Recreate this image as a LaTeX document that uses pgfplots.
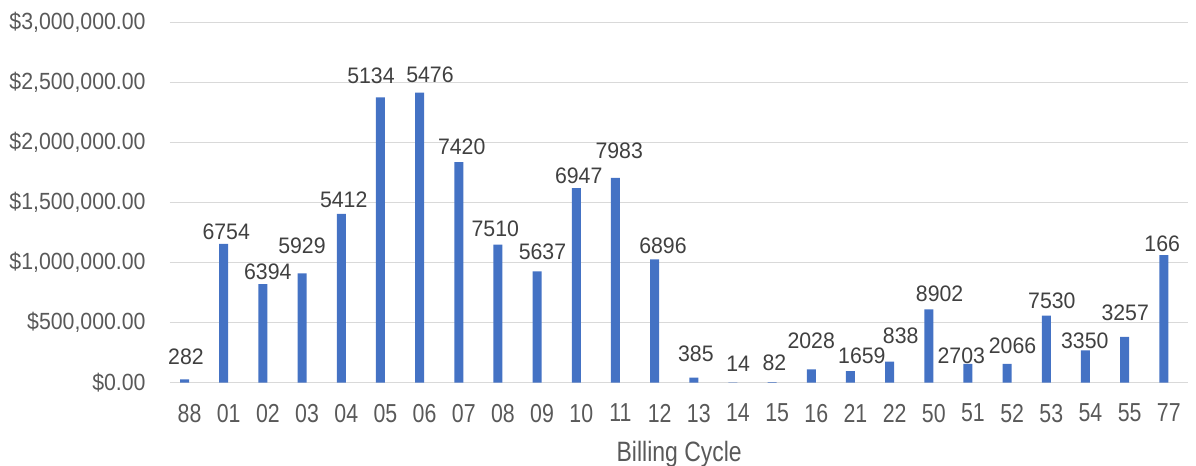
\documentclass[border=0pt]{standalone}
\usepackage{fontspec}
\setmainfont[FakeStretch=0.82]{Liberation Sans}
\newfontfamily\labelfont[FakeStretch=0.95]{Liberation Sans}
\newfontfamily\yfont[FakeStretch=0.91]{Liberation Sans}
\usepackage{pgfplots}
\pgfplotsset{compat=1.18}
\usepackage{pgfplotstable}
\definecolor{barblue}{HTML}{4472C4}
\definecolor{gridgray}{HTML}{D9D9D9}
\definecolor{tickgray}{HTML}{595959}
\definecolor{labelgray}{HTML}{404040}

\pgfplotstableread{
x y
0 28000
1 1156000
2 822000
3 911000
4 1406000
5 2378000
6 2417000
7 1839000
8 1150000
9 928000
10 1622000
11 1706000
12 1028000
13 42000
14 3000
15 5000
16 112000
17 97000
18 175000
19 612000
20 156000
21 156000
22 558000
23 270000
24 381000
25 1064000
}\bars

\pgfplotstableread{
x y label
-0.092 147500 282
0.935 1195000 6754
1.997 861700 6394
2.870 1072500 5929
3.935 1458300 5412
4.631 2495000 5134
6.138 2500000 5476
6.947 1905800 7420
7.805 1216700 7510
9.010 1022500 5637
9.934 1661700 6947
10.968 1864200 7983
12.086 1078300 6896
12.926 175000 385
14.004 91700 14
14.933 105800 82
15.870 286700 2028
17.164 161700 1659
18.155 328300 838
19.148 675000 8902
19.702 161700 2703
21.011 239200 2066
22.015 620000 7530
22.855 286700 3350
23.886 516700 3257
24.831 1091700 166
}\labels

\begin{document}
\begin{tikzpicture}
\begin{axis}[
  scale only axis,
  width=509.2pt, height=180pt,
  xmin=-0.5, xmax=25.5, ymin=0, ymax=3000000,
  scaled y ticks=false,
  clip=false,
  axis line style={draw=none},
  tick style={draw=none},
  major tick length=0pt,
  ymajorgrids,
  grid style={gridgray, line width=0.75pt},
  xtick={0,...,25},
  xticklabels={88,01,02,03,04,05,06,07,08,09,10,11,12,13,14,15,16,21,22,50,51,52,53,54,55,77},
  ytick={0,500000,1000000,1500000,2000000,2500000,3000000},
  yticklabels={{\$0.00},{\$500,000.00},{\$1,000,000.00},{\$1,500,000.00},{\$2,000,000.00},{\$2,500,000.00},{\$3,000,000.00}},
  xticklabel style={font=\fontsize{13}{13}\selectfont, text=tickgray, inner sep=0pt, anchor=north, yshift=-10.5pt},
  yticklabel style={font=\yfont\fontsize{11.7}{11.7}\selectfont, text=tickgray, inner sep=0pt, anchor=east, xshift=-12pt},
  xlabel={Billing Cycle},
  xlabel style={font=\fontsize{14}{14}\selectfont, text=tickgray, inner sep=0pt, at={(axis description cs:0.5,0)}, anchor=base, yshift=-39.5pt},
]
\addplot[ybar, bar width=4.5pt, bar shift=-2.5pt, fill=barblue, draw=none] table[x=x, y=y] {\bars};
\addplot[draw=none, mark=none, nodes near coords, point meta=explicit symbolic,
  nodes near coords style={anchor=base, inner sep=0pt, text=labelgray, font=\labelfont\fontsize{11.2}{11.2}\selectfont}]
  table[x=x, y=y, meta=label] {\labels};
\end{axis}
\pgfresetboundingbox
\useasboundingbox (-85pt,-41.65pt) rectangle (513pt,191.35pt);
\end{tikzpicture}
\end{document}
